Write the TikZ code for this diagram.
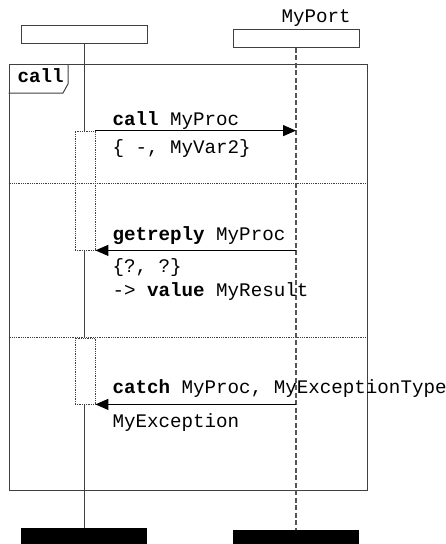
\documentclass[tikz,border=0pt]{standalone}
\usepackage{fontspec}
\setmonofont{Liberation Mono}
\usetikzlibrary{arrows.meta, positioning, calc}
\definecolor{cframe}{HTML}{404040}
\definecolor{cdash}{HTML}{555555}
\tikzset{
  every picture/.style={x=1pt, y=-1pt, line width=1pt},
  txt/.style={font=\ttfamily\fontsize{19.2}{23}\selectfont, inner sep=0pt, anchor=base west},
  head/.style={draw=cframe, minimum width=126pt, minimum height=18pt, inner sep=0pt},
  foot/.style={fill=black, minimum width=126pt, minimum height=16pt, inner sep=0pt},
  act/.style={draw=cframe, densely dotted, line width=0.8pt, minimum width=20pt, inner sep=0pt},
  msg/.style={-{Triangle[length=13pt, width=11pt]}, line width=1.2pt},
  sep/.style={draw=cframe, densely dotted, line width=0.8pt},
}

\begin{document}
\begin{tikzpicture}
  \useasboundingbox (0,0) rectangle (446,544);
  % instances
  \node[head] (a) at (84,34) {};
  \node[head] (p) at (296,38) {};
  \node[txt] (pname) at (281,22) {MyPort};
  \node[foot] (aend) at (84,536) {};
  \node[foot, minimum height=14pt] (pend) at (296,537) {};
  % frame
  \node[draw=cframe, minimum width=358pt, minimum height=426pt, inner sep=0pt] (frm) at (188,277) {};
  \draw[cframe] (frm.west |- 0,93) -- (63,93) -- (68,84) -- (68,64);
  \node[txt] (frmname) at (17,82) {\bfseries call};
  \foreach \y in {183,337} \draw[sep] (frm.west |- 0,\y) -- (frm.east |- 0,\y);
  % activations and lifelines
  \node[act, minimum height=119pt] (act1) at (85,190.5) {};
  \node[act, minimum height=66pt] (act2) at (85,371) {};
  \draw[cframe] (a.south) -- (a.south |- act1.north);
  \draw[cframe] (a.south |- act1.south) -- (a.south |- act2.north);
  \draw[cframe] (a.south |- act2.south) -- (aend.north);
  \draw[cdash, dash pattern=on 5pt off 2.5pt, line width=1.2pt] (p.south) -- (pend.north);
  % messages
  \coordinate (r1) at (p.south |- act1.north);
  \coordinate (r2) at (p.south |- act1.south);
  \coordinate (r3) at (p.south |- act2.south);
  \draw[msg] (act1.north east) -- (r1);
  \draw[msg] (r2) -- (act1.south east);
  \draw[msg] (r3) -- (act2.south east);
  \node[txt] (m1) at (112,125) {\textbf{call} MyProc};
  \node[txt] (m1p) at (112,153) {\{ -, MyVar2\}};
  \node[txt] (m2) at (112,240) {\textbf{getreply} MyProc};
  \node[txt] (m2p) at (112,272) {\{?, ?\}};
  \node[txt] (m2v) at (112,296) {-> \textbf{value} MyResult};
  \node[txt] (m3) at (112,393) {\textbf{catch} MyProc, MyExceptionType};
  \node[txt] (m3p) at (112,427) {MyException};
\end{tikzpicture}
\end{document}
